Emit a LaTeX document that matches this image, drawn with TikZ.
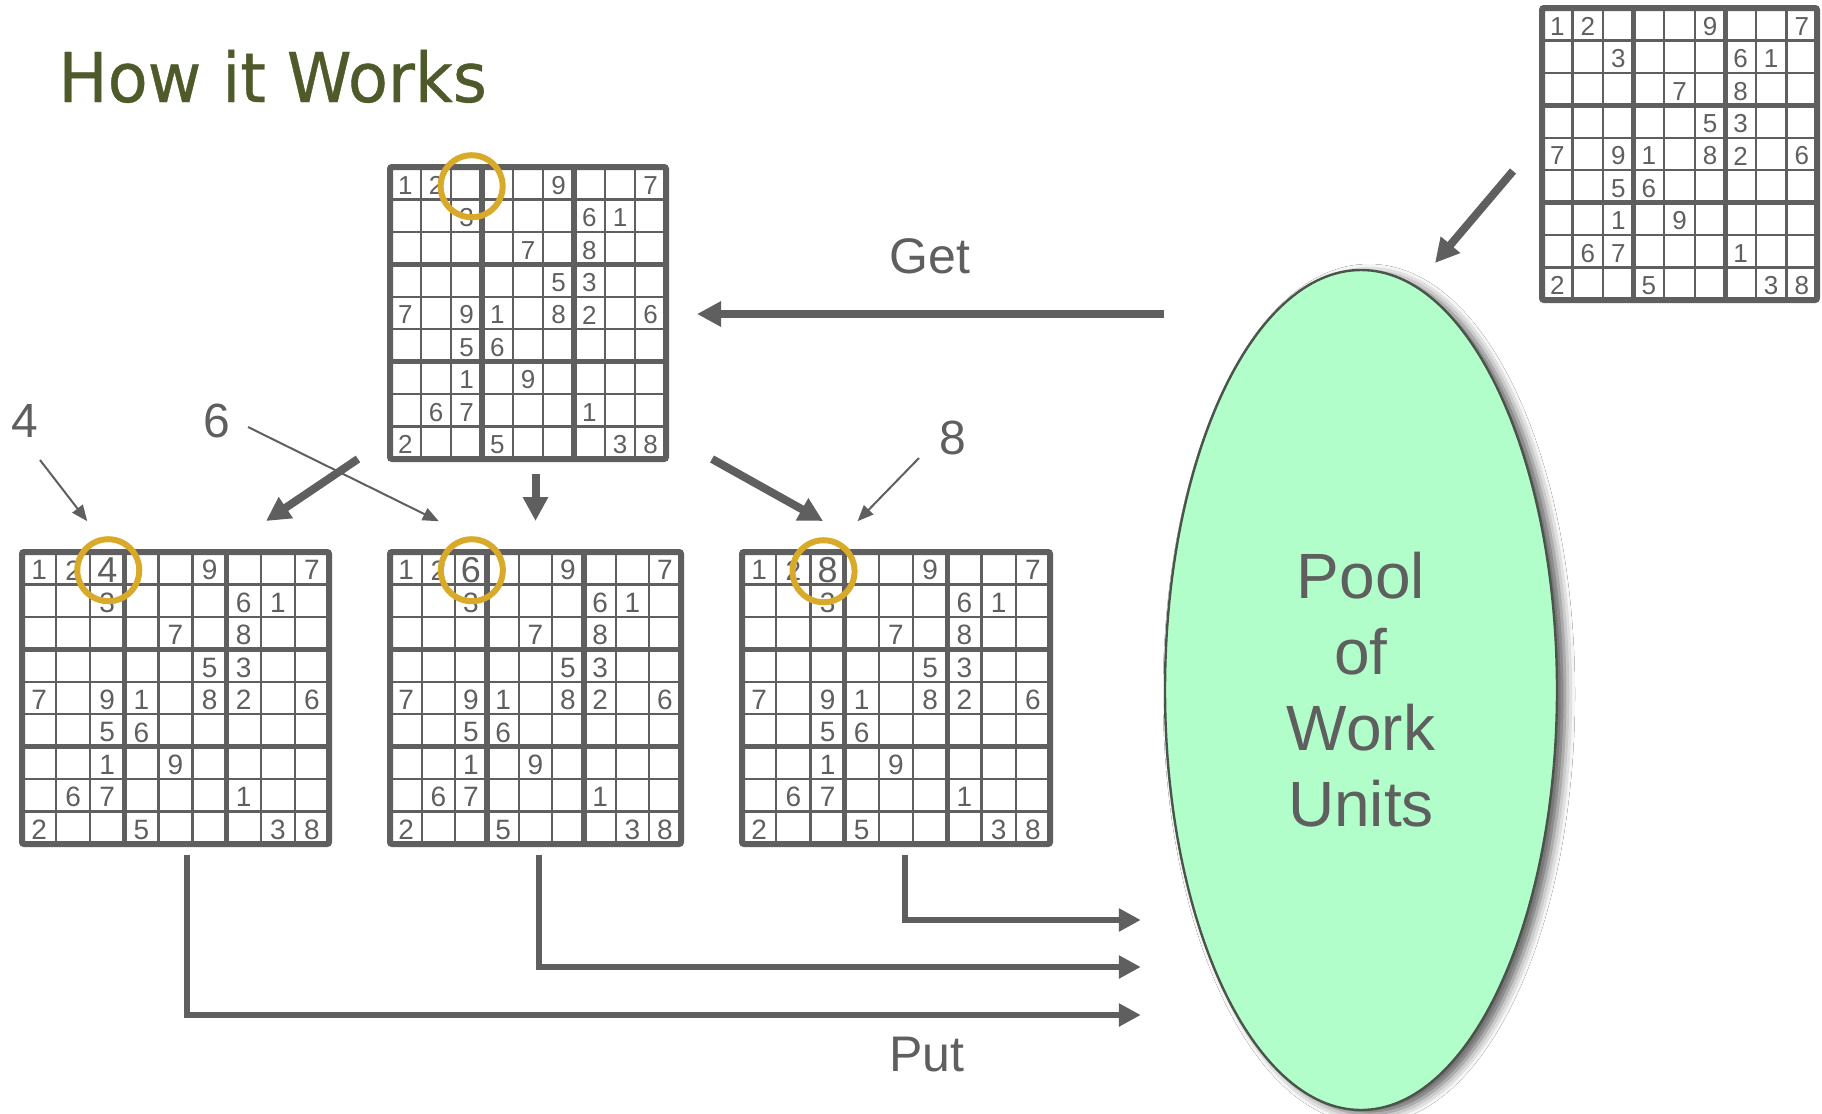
\documentclass[tikz,border=0pt]{standalone}
\usepackage{fontspec}
\usetikzlibrary{positioning,arrows.meta,calc,shapes.geometric,shadows.blur}
\newfontfamily\digitfont{Liberation Sans}
\newfontfamily\titlefont[FakeBold=0.6]{DejaVu Sans}
\definecolor{sink}{HTML}{5F5F5F}
\definecolor{sring}{HTML}{D9AA2A}
\definecolor{stitle}{HTML}{4E5A2A}
\definecolor{spool}{HTML}{B2FECB}
\definecolor{sedge}{HTML}{4A544A}
\tikzset{
  gridbox/.style  ={draw=sink, line width=3pt, rounded corners=1pt, fill=white,
                    inner sep=0pt, outer sep=0pt},
  thinrule/.style ={draw=sink, line width=1.1pt},
  thickrule/.style={draw=sink, line width=2.6pt},
  num/.style      ={text=sink, inner sep=0pt},
  ring/.style     ={circle, draw=sring, line width=3pt, minimum size=31pt, inner sep=0pt},
  tag/.style      ={font=\digitfont\fontsize{24}{24}\selectfont, text=sink, inner sep=0pt},
  word/.style     ={font=\digitfont\fontsize{25}{25}\selectfont, text=sink, inner sep=0pt},
  pool/.style     ={ellipse, draw=sedge, line width=1.2pt, fill=spool, align=center,
                    minimum width=196pt, minimum height=420pt, text=sink,
                    font=\digitfont\fontsize{32}{38}\selectfont,
                    blur shadow={shadow xshift=4pt, shadow yshift=-2pt,
                                 shadow blur radius=5pt, shadow opacity=65}},
  flow/.style     ={-{Triangle[length=12pt,width=12pt]}, line width=4pt, draw=sink},
  putflow/.style  ={-{Triangle[length=11pt,width=11pt]}, line width=3.2pt, draw=sink},
  pointer/.style  ={-{Triangle[length=8pt,width=6.5pt]}, line width=1pt, draw=sink},
}
% the given digits, row/column/value
\newcommand\givens{1/1/1,1/2/2,1/6/9,1/9/7,2/3/3,2/7/6,2/8/1,3/5/7,3/7/8,
  4/6/5,4/7/3,5/1/7,5/3/9,5/4/1,5/6/8,5/7/2,5/9/6,6/3/5,6/4/6,7/3/1,7/5/9,
  8/2/6,8/3/7,8/7/1,9/1/2,9/4/5,9/8/3,9/9/8}
% #1 name, #2/#3 centre, #4/#5 size, #6 digit size, #7 guess in row 1 column 3
\newcommand{\sudokugrid}[7]{%
  \node[gridbox, minimum width=#4*0.5pt, minimum height=#5*0.5pt] (#1) at (#2,#3) {};
  \foreach \i in {1,2,4,5,7,8}{
    \draw[thinrule] ($(#1.north west)!\i/9!(#1.north east)$) -- ($(#1.south west)!\i/9!(#1.south east)$);
    \draw[thinrule] ($(#1.north west)!\i/9!(#1.south west)$) -- ($(#1.north east)!\i/9!(#1.south east)$);
  }
  \foreach \i in {3,6}{
    \draw[thickrule] ($(#1.north west)!\i/9!(#1.north east)$) -- ($(#1.south west)!\i/9!(#1.south east)$);
    \draw[thickrule] ($(#1.north west)!\i/9!(#1.south west)$) -- ($(#1.north east)!\i/9!(#1.south east)$);
  }
  \foreach \r/\c/\d in \givens
    \node[num, font=\digitfont\fontsize{#6}{#6}\selectfont] (#1-\r-\c)
      at ($(#1.north west)+({(\c-0.5)*#4/9},{(\r-0.5)*#5/9+2})$) {\d};
  \node[num, font=\digitfont\fontsize{18}{18}\selectfont] (#1-1-3)
    at ($(#1.north west)+({2.5*#4/9},{0.5*#5/9+2})$) {#7};
}

\begin{document}
\begin{tikzpicture}[x=0.5pt, y=-0.5pt]
  \useasboundingbox[fill=white] (0,0) rectangle (1822,1114);
  \node[font=\titlefont\fontsize{34.3}{40}\selectfont, text=stitle, anchor=base west,
        inner sep=0pt] (title) at (58,102) {\scalebox{0.955}[1]{How it Works}};

  \sudokugrid{top}{528}{313}{276}{292}{13}{}
  \sudokugrid{src}{1679.5}{154}{275}{292}{13}{}
  \sudokugrid{left}{175.5}{698}{307}{292}{14}{4}
  \sudokugrid{mid}{535.5}{698}{291}{292}{14}{6}
  \sudokugrid{right}{896}{698}{308}{292}{14}{8}

  \node[ring] (ringtop) at ($(top-1-3)+(5,1)$) {};
  \node[ring] (ringleft) at ($(left-1-3)+(1,0)$) {};
  \node[ring] (ringmid) at ($(mid-1-3)+(1,0)$) {};
  \node[ring] (ringright) at ($(right-1-3)+(-4,1)$) {};

  \node[pool] (pool) at (1361,690) {Pool\\of\\Work\\Units};

  % take a unit out of the pool
  \coordinate (getend) at ($(top.east)+(31,1)$);
  \draw[flow] (pool.west |- getend) -- (getend);
  \node[word] (get) at (930,256) {Get};
  \draw[flow] ($(src.west)+(-29,17)$) -- (1435,263);

  % split on the three candidates
  \draw[flow] ($(top.south west)+(-32,0)$) -- ($(left.north east)+(-63,-31)$);
  \draw[flow] ($(mid.north)+(0,-78)$) -- ($(mid.north)+(0,-31)$);
  \draw[flow] ($(top.south east)+(46,0)$) -- ($(right.north west)+(81,-31)$);

  \node[tag] (tag4) at (25,421) {4};
  \node[tag] (tag6) at (217,421) {6};
  \node[tag] (tag8) at (953,438) {8};
  \draw[pointer] ($(tag4)+(15,39)$) -- ($(left-1-3)+(-20,-49)$);
  \draw[pointer] ($(tag6)+(31,6)$) -- ($(mid-1-3)+(-32,-49)$);
  \draw[pointer] ($(tag8)+(-34,20)$) -- ($(right-1-3)+(30,-49)$);

  % put the new units back
  \coordinate (putin1) at ($(pool.west)+(-23,230)$);
  \coordinate (putin2) at ($(pool.west)+(-23,277)$);
  \coordinate (putin3) at ($(pool.west)+(-23,325)$);
  \draw[putflow] ($(right.south)+(9,11)$) |- (putin1);
  \draw[putflow] ($(mid.south)+(3.5,11)$) |- (putin2);
  \draw[putflow] ($(left.south)+(11.5,11)$) |- (putin3);
  \node[word] (put) at (927,1055) {Put};
\end{tikzpicture}
\end{document}
